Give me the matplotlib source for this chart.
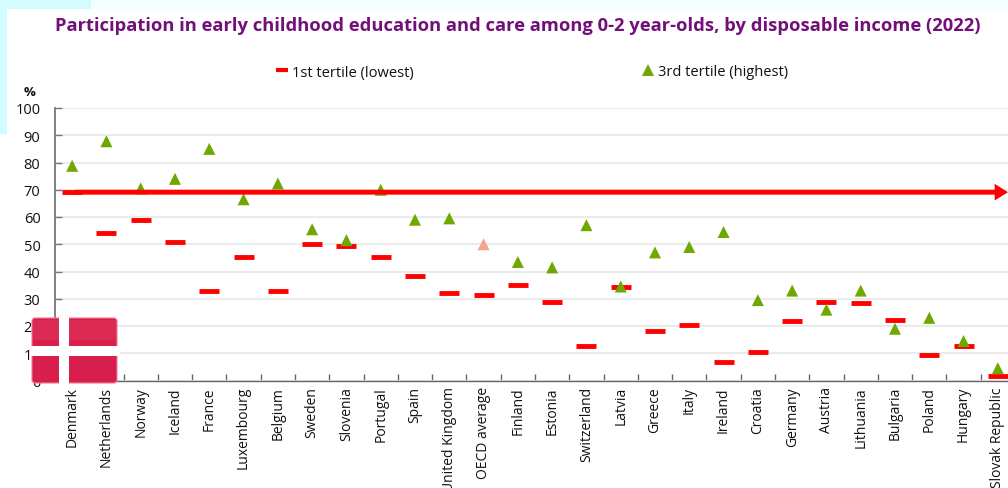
import matplotlib
matplotlib.use("Agg")
import matplotlib.pyplot as plt
from matplotlib.patches import Rectangle, FancyBboxPatch
from matplotlib.lines import Line2D

countries = ["Denmark", "Netherlands", "Norway", "Iceland", "France", "Luxembourg", "Belgium",
             "Sweden", "Slovenia", "Portugal", "Spain", "United Kingdom", "OECD average", "Finland",
             "Estonia", "Switzerland", "Latvia", "Greece", "Italy", "Ireland", "Croatia", "Germany",
             "Austria", "Lithuania", "Bulgaria", "Poland", "Hungary", "Slovak Republic"]
tertile_1 = [69, 54.3, 59, 50.7, 33, 45.5, 32.7, 50, 49.5, 45.2, 38.5, 32, 31.5, 35,
             28.8, 12.5, 34.2, 18, 20.2, 6.8, 10.5, 21.7, 28.8, 28.5, 22.2, 9.3, 12.5, 1.5]
tertile_3 = [78.8, 87.8, 70.5, 74, 85, 66.5, 72.3, 55.5, 51.5, 70, 59, 59.5, 50, 43.5,
             41.5, 57, 34.5, 47, 49, 54.5, 29.5, 33, 26, 33, 19, 23, 14.5, 4.5]
arrow_level = 69.1
title = "Participation in early childhood education and care among 0-2 year-olds, by disposable income (2022)"

plt.rcParams['font.family'] = ['Open Sans', 'DejaVu Sans']
W, H = 1008, 489
fig = plt.figure(figsize=(W / 100, H / 100), dpi=100, facecolor='white')

# slide background remnants
bg = fig.add_axes([0, 0, 1, 1], zorder=0)
bg.set_xlim(0, W); bg.set_ylim(H, 0); bg.axis('off')
bg.add_patch(Rectangle((0, 0), W, 10, fc='#f3ffff', ec='none'))
bg.add_patch(Rectangle((0, 0), 91, 10, fc='#d2fcfd', ec='none'))
bg.add_patch(Rectangle((0, 0), 7, 135, fc='#d2fcfd', ec='none'))

left, right, top, bottom = 55, 1015, 109, 381.5
ax = fig.add_axes([left / W, 1 - bottom / H, (right - left) / W, (bottom - top) / H], zorder=1)
ax.patch.set_alpha(0)
n = len(countries)
x = list(range(n))
ax.set_xlim(-0.5, n - 0.5)
ax.set_ylim(0, 100)
ax.set_yticks(range(0, 101, 10))
ax.set_xticks([i - 0.5 for i in range(n + 1)], minor=False)
ax.set_xticklabels([])
ax.set_xticks(x, minor=True)
ax.set_xticklabels(countries, minor=True, rotation=90, fontsize=10, color='#111111')
ax.tick_params(axis='x', which='major', direction='in', length=5, width=1, color='#666666')
ax.tick_params(axis='x', which='minor', length=0, pad=4)
ax.tick_params(axis='y', direction='in', length=5, width=1, color='#777777',
               labelsize=10.5, labelcolor='#111111', pad=10.5)
ax.grid(axis='y', color='#e8e8e8', lw=1.2)
ax.set_axisbelow(True)
for s in ['top', 'right']:
    ax.spines[s].set_visible(False)
ax.spines['left'].set_color('#777777')
ax.spines['left'].set_linewidth(1.3)
ax.spines['bottom'].set_color('#666666')
ax.spines['bottom'].set_linewidth(1)

red = '#ff0000'
green = '#6fa800'
ax.plot(x, tertile_1, ls='none', marker='_', ms=14, mew=3.5, color=red, zorder=3, clip_on=False)
idx = countries.index("OECD average")
colors3 = ['#f4a58a' if i == idx else green for i in x]
ax.scatter(x, tertile_3, marker='^', s=75, c=colors3, linewidths=0, zorder=4, clip_on=False)

ax.annotate('', xy=(1008, arrow_level), xycoords=('figure pixels', 'data'),
            xytext=(75, arrow_level), textcoords=('figure pixels', 'data'),
            arrowprops=dict(arrowstyle='simple,head_length=0.6,head_width=0.75,tail_width=0.22',
                            fc=red, ec='none', lw=0, shrinkA=0, shrinkB=0, mutation_scale=16), zorder=5)

fig.text(55 / W, 1 - 26 / H, title, fontsize=13.25, fontweight='bold', color='#720f78', va='center', ha='left')
fig.text(30 / W, 1 - 93 / H, '%', ha='center', va='center', fontsize=9.5, fontweight='bold', color='#111111')

handles = [Line2D([], [], ls='none', marker='_', ms=8, mew=3, color=red, label='1st tertile (lowest)'),
           Line2D([], [], ls='none', marker='^', ms=8, mew=0, color=green, label='3rd tertile (highest)')]
fig.legend(handles=handles, loc='center left', bbox_to_anchor=(275 / W, 1 - 73 / H), ncol=2, frameon=False,
           fontsize=10.5, columnspacing=15.6, handlelength=1.0, handletextpad=0.15, labelcolor='#111111',
           borderaxespad=0, borderpad=0)

# flag overlay
fl = fig.add_axes([0, 0, 1, 1], zorder=3)
fl.set_xlim(0, W); fl.set_ylim(H, 0); fl.axis('off')
fl.add_patch(FancyBboxPatch((32, 319), 85, 65, boxstyle='round,pad=0,rounding_size=3', fc='#d81e4a',
                            ec='#ee7f98', lw=0.8))
fl.add_patch(Rectangle((33, 321), 83, 20, fc='#db2a54', ec='none'))
fl.add_patch(Rectangle((59, 317), 9.5, 69, fc='white', ec='none'))
fl.add_patch(Rectangle((30, 347), 90, 9.5, fc='white', ec='none'))

fig.savefig('out.png', dpi=100)
